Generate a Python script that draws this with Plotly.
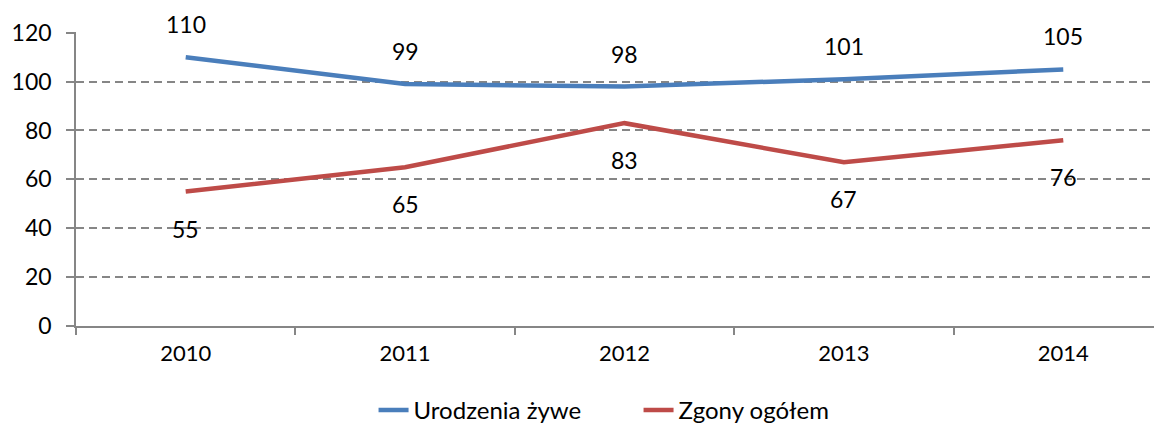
import plotly.graph_objects as go

years = ["2010", "2011", "2012", "2013", "2014"]
urodzenia = [110, 99, 98, 101, 105]
zgony = [55, 65, 83, 67, 76]
y_ticks = [0, 20, 40, 60, 80, 100, 120]

BLUE = "#4A7EBB"
RED = "#BE4B48"
GRID = "#868686"
FONT = "Lato"
FS = 23

fig = go.Figure()
fig.add_trace(go.Scatter(x=years, y=urodzenia, mode="lines", name="Urodzenia żywe",
                         line=dict(color=BLUE, width=4.5)))
fig.add_trace(go.Scatter(x=years, y=zgony, mode="lines", name="Zgony ogółem",
                         line=dict(color=RED, width=4.5)))

for i, y in enumerate(urodzenia):
    fig.add_annotation(x=i, y=y, xref="x", yref="y", text=str(y), showarrow=False, yshift=33,
                       font=dict(family=FONT, size=FS, color="black"))
for i, y in enumerate(zgony):
    fig.add_annotation(x=i, y=y, xref="x", yref="y", text=str(y), showarrow=False, yshift=-37,
                       font=dict(family=FONT, size=FS, color="black"))

fig.update_layout(
    width=1154, height=419,
    margin=dict(l=68, r=0, t=24, b=101, autoexpand=False),
    paper_bgcolor="white", plot_bgcolor="white",
    font=dict(family=FONT, size=FS, color="black"),
    showlegend=True,
    legend=dict(orientation="h", x=0.518, xanchor="center", y=-0.287, yanchor="middle",
                font=dict(family=FONT, size=24), entrywidth=220, tracegroupgap=0),
    xaxis=dict(type="category", range=[-0.5, 4.45], showline=True, linecolor=GRID, linewidth=1.5,
               ticks="outside", tickson="boundaries", ticklen=7, tickcolor=GRID, tickwidth=1.5,
               showgrid=False, zeroline=False, tickfont=dict(size=FS - 1), ticklabelstandoff=7),
    yaxis=dict(range=[0, 120.3], tickvals=y_ticks, showline=True, linecolor=GRID, linewidth=1.5,
               ticks="outside", ticklen=8, tickcolor=GRID, tickwidth=1.5,
               showgrid=True, gridcolor=GRID, gridwidth=1.5, griddash="8px,5px",
               zeroline=False, tickfont=dict(size=FS), ticklabelstandoff=10),
)

fig.write_html("out.html")
